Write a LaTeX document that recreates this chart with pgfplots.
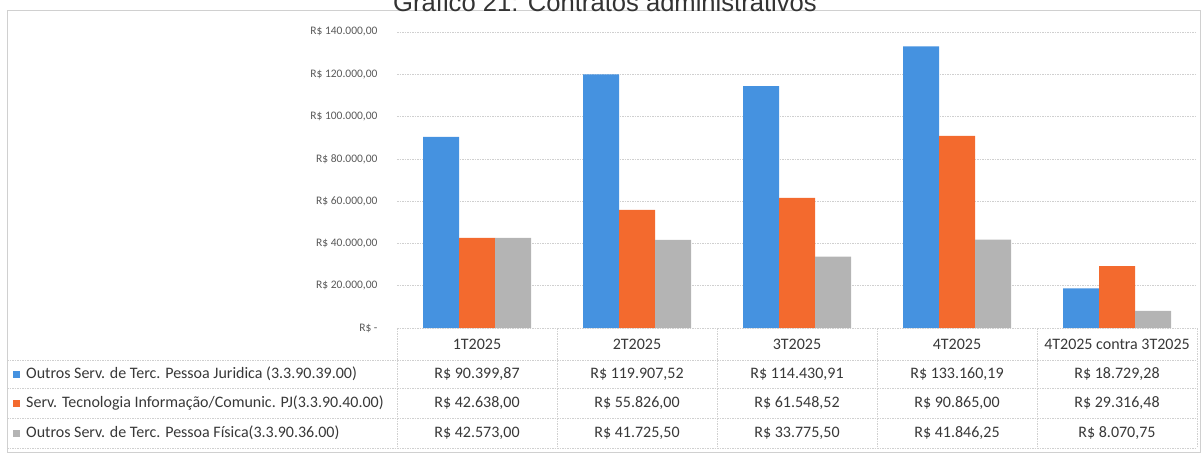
\documentclass[border=0pt]{standalone}
\usepackage{pgfplots}
\pgfplotsset{compat=1.18}
\usepackage{fontspec}
\setmainfont{Carlito}
\newfontfamily\arialf{Liberation Sans}
\definecolor{cblue}{HTML}{4592E0}
\definecolor{corange}{HTML}{F36A2E}
\definecolor{cgray}{HTML}{B4B4B4}
\definecolor{ctext}{HTML}{383838}
\definecolor{cgrid}{HTML}{D0D0D0}
\begin{document}
\begin{tikzpicture}[x=1pt,y=1pt]
\useasboundingbox (0,0) rectangle (1204,-455);
% chart area border
\draw[cgrid, line width=0.6pt] (7,-10) rectangle (1200,-452);
% title (cut at top)
\node[anchor=base, text=black!80, inner sep=0pt] at (605,-12) {\arialf\fontsize{25.6}{28}\selectfont Gráfico 21: Contratos administrativos};
\begin{axis}[
  at={(397pt,-328pt)}, anchor=south west,
  scale only axis, width=800pt, height=296pt,
  ybar=0pt, bar width=36pt,
  xmin=-0.5, xmax=4.5, ymin=0, ymax=140000,
  xtick=\empty,
  scaled y ticks=false,
  ytick={0,20000,40000,60000,80000,100000,120000,140000},
  yticklabels={{R\$ -},{R\$ 20.000,00},{R\$ 40.000,00},{R\$ 60.000,00},{R\$ 80.000,00},{R\$ 100.000,00},{R\$ 120.000,00},{R\$ 140.000,00}},
  yticklabel style={font=\fontsize{11.5}{12}\selectfont, text=black!65, xshift=-16pt},
  axis line style={draw=none},
  major tick length=0pt,
  ymajorgrids, grid style={cgrid, line width=0.6pt, dash pattern=on 1.5pt off 1pt},
  clip=false,
]
\addplot[fill=cblue, draw=none] coordinates {(0,90399.87) (1,119907.52) (2,114430.91) (3,133160.19) (4,18729.28)};
\addplot[fill=corange, draw=none] coordinates {(0,42638.00) (1,55826.00) (2,61548.52) (3,90865.00) (4,29316.48)};
\addplot[fill=cgray, draw=none] coordinates {(0,42573.00) (1,41725.50) (2,33775.50) (3,41846.25) (4,8070.75)};
\end{axis}
% data table
\begin{scope}[cgrid, line width=0.6pt, dash pattern=on 1.5pt off 1pt]
\draw (397,-328) -- (1197,-328);
\foreach \yy in {360,388,418,448} \draw (7,-\yy) -- (1197,-\yy);
\foreach \xx in {397,557,717,877,1037,1197} \draw (\xx,-328) -- (\xx,-448);
\draw (7,-360) -- (7,-448);
\end{scope}
\begin{scope}[every node/.style={text=ctext, font=\fontsize{16}{18}\selectfont, inner sep=0pt}]
\foreach \lab [count=\i from 0] in {{1T2025},{2T2025},{3T2025},{4T2025},{4T2025 contra 3T2025}}
  \node at (477+160*\i,-344) {\lab};
\foreach \lab [count=\i from 0] in {{R\$ 90.399,87},{R\$ 119.907,52},{R\$ 114.430,91},{R\$ 133.160,19},{R\$ 18.729,28}}
  \node at (477+160*\i,-374) {\lab};
\foreach \lab [count=\i from 0] in {{R\$ 42.638,00},{R\$ 55.826,00},{R\$ 61.548,52},{R\$ 90.865,00},{R\$ 29.316,48}}
  \node at (477+160*\i,-403) {\lab};
\foreach \lab [count=\i from 0] in {{R\$ 42.573,00},{R\$ 41.725,50},{R\$ 33.775,50},{R\$ 41.846,25},{R\$ 8.070,75}}
  \node at (477+160*\i,-433) {\lab};
\node[anchor=west] at (26,-374) {Outros Serv. de Terc. Pessoa Juridica (3.3.90.39.00)};
\node[anchor=west] at (26,-403) {Serv. Tecnologia Informação/Comunic. PJ(3.3.90.40.00)};
\node[anchor=west] at (26,-433) {Outros Serv. de Terc. Pessoa Física(3.3.90.36.00)};
\end{scope}
\fill[cblue] (13,-370.5) rectangle (20,-377.5);
\fill[corange] (13,-399.5) rectangle (20,-406.5);
\fill[cgray] (13,-429.5) rectangle (20,-436.5);
\end{tikzpicture}
\end{document}
